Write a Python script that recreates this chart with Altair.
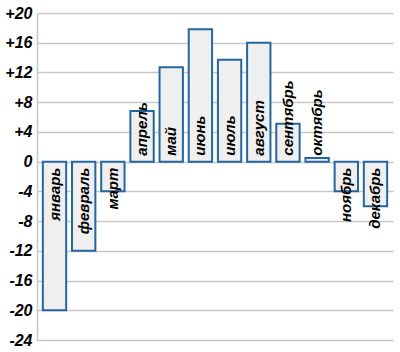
import altair as alt
import pandas as pd

months = ["январь", "февраль", "март", "апрель", "май", "июнь",
          "июль", "август", "сентябрь", "октябрь", "ноябрь", "декабрь"]
temps = [-20, -12, -4, 6.8, 12.7, 17.8, 13.7, 16, 5.1, 0.5, -4, -6]
ticks = [-24, -20, -16, -12, -8, -4, 0, 4, 8, 12, 16, 20]

df = pd.DataFrame({"month": months, "t": temps})

FONT = "Liberation Sans"

x = alt.X("month:N", sort=months,
          scale=alt.Scale(paddingInner=0.2, paddingOuter=0.2), axis=None)
y_scale = alt.Scale(domain=[-24, 20], nice=False, zero=False)
y_axis = alt.Axis(values=ticks, title=None, domain=True,
                  domainColor="#c8c8c8", domainWidth=1.5,
                  ticks=False, grid=True, gridColor="#c8c8c8",
                  gridWidth=1.5, labelFont=FONT, labelFontSize=16,
                  labelFontWeight="bold", labelFontStyle="italic",
                  labelColor="#000000", labelPadding=5,
                  labelOverlap=False, labelFlush=False, labelBound=False,
                  labelExpr="datum.value > 0 ? '+' + datum.value : '' + datum.value")

base = alt.Chart(df)

bars = base.mark_bar(fill="#efefef", stroke="#2466a0", strokeWidth=2).encode(
    x=x,
    y=alt.Y("t:Q", scale=y_scale, axis=y_axis),
    y2=alt.datum(0),
)

pos = base.transform_calculate(zero="0").transform_filter("datum.t >= 0").mark_text(
    angle=270, align="left", baseline="middle", dx=6,
    font=FONT, fontSize=15, fontWeight="bold", fontStyle="italic", color="#000000"
).encode(x=x, y=alt.Y("zero:Q", scale=y_scale, axis=y_axis), text="month:N")

neg = base.transform_calculate(zero="0").transform_filter("datum.t < 0").mark_text(
    angle=270, align="right", baseline="middle", dx=-6,
    font=FONT, fontSize=15, fontWeight="bold", fontStyle="italic", color="#000000"
).encode(x=x, y=alt.Y("zero:Q", scale=y_scale, axis=y_axis), text="month:N")

chart = alt.layer(bars, pos, neg).properties(
    width=356, height=327,
    autosize=alt.AutoSizeParams(type="none"),
    padding={"left": 37, "top": 13, "right": 7, "bottom": 12},
    background="#ffffff",
).configure_view(stroke=None)

chart.save("out.html", embed_options={"renderer": "svg", "actions": False})
